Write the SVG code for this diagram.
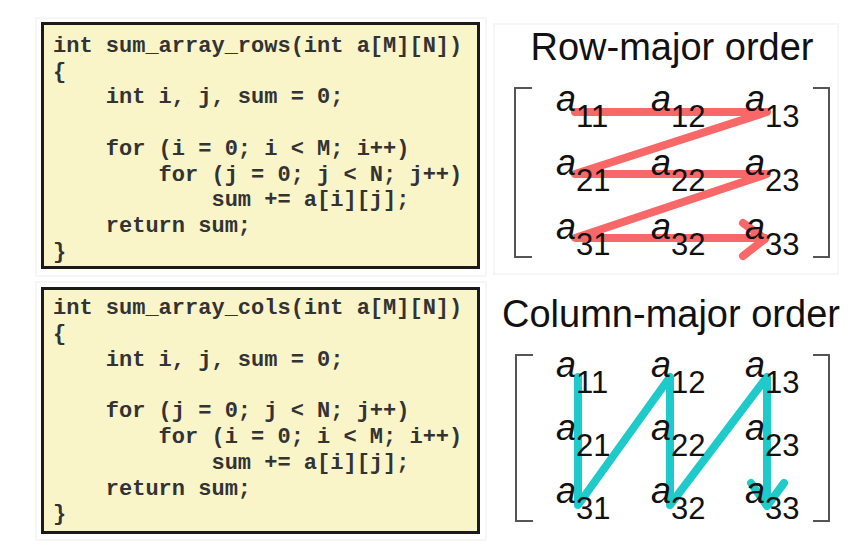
<svg xmlns="http://www.w3.org/2000/svg" width="864" height="560" viewBox="0 0 864 560">
<style>
.box{fill:#f9f5c9;stroke:#1a1a1a;stroke-width:3}
.code{font-family:"Liberation Mono","Courier New",monospace;font-weight:bold;font-size:22px;fill:#333;white-space:pre}
.title{font-family:"Liberation Sans",Arial,sans-serif;font-size:38px;fill:#111;text-anchor:middle}
.el{font-family:"Liberation Sans",Arial,sans-serif;font-size:36px;font-style:italic;fill:#111}
.sub{font-family:"Liberation Sans",Arial,sans-serif;font-size:31px;font-style:normal;fill:#111}
.br{fill:none;stroke:#555;stroke-width:2}
.red{fill:none;stroke:#f86868;stroke-width:8;stroke-linecap:round;stroke-linejoin:round}
.cyan{fill:none;stroke:#1fcaca;stroke-width:8;stroke-linecap:round;stroke-linejoin:round}
.faint{fill:none;stroke:#f3f3f3;stroke-width:1.5}
</style>
<rect width="864" height="560" fill="#ffffff"/>
<rect class="faint" x="36" y="18" width="450" height="258"/>
<rect class="faint" x="36" y="282" width="450" height="258"/>
<rect class="faint" x="494" y="24" width="344" height="250"/>

<g id="code-rows">
<rect class="box" x="42.5" y="23.5" width="436" height="244"/>
<text class="code" x="53" y="52">int sum_array_rows(int a[M][N])</text>
<text class="code" x="53" y="77.7">{</text>
<text class="code" x="53" y="103.4">    int i, j, sum = 0;</text>
<text class="code" x="53" y="154.8">    for (i = 0; i &lt; M; i++)</text>
<text class="code" x="53" y="180.5">        for (j = 0; j &lt; N; j++)</text>
<text class="code" x="53" y="206.2">            sum += a[i][j];</text>
<text class="code" x="53" y="231.9">    return sum;</text>
<text class="code" x="53" y="257.6">}</text>
</g>

<g id="code-cols">
<rect class="box" x="42.5" y="288.5" width="436" height="244"/>
<text class="code" x="53" y="314">int sum_array_cols(int a[M][N])</text>
<text class="code" x="53" y="339.8">{</text>
<text class="code" x="53" y="365.6">    int i, j, sum = 0;</text>
<text class="code" x="53" y="417.2">    for (j = 0; j &lt; N; j++)</text>
<text class="code" x="53" y="443">        for (i = 0; i &lt; M; i++)</text>
<text class="code" x="53" y="468.8">            sum += a[i][j];</text>
<text class="code" x="53" y="494.6">    return sum;</text>
<text class="code" x="53" y="520.4">}</text>
</g>

<g id="row-major">
<text class="title" x="672" y="60">Row-major order</text>
<path class="br" d="M532,88 H515 V257 H532"/>
<path class="br" d="M813,88 H829 V257 H813"/>
<g id="row-path">
<path class="red" d="M575,112 L767,112 L575,174 L767,174 L575,238 L765,238"/>
<path class="red" d="M743,223 L765,239 L743,256"/>
</g>
<text class="el" x="556" y="111">a<tspan class="sub" dy="16">11</tspan></text>
<text class="el" x="651" y="111">a<tspan class="sub" dy="16">12</tspan></text>
<text class="el" x="745" y="111">a<tspan class="sub" dy="16">13</tspan></text>
<text class="el" x="556" y="175">a<tspan class="sub" dy="16">21</tspan></text>
<text class="el" x="651" y="175">a<tspan class="sub" dy="16">22</tspan></text>
<text class="el" x="745" y="175">a<tspan class="sub" dy="16">23</tspan></text>
<text class="el" x="556" y="239">a<tspan class="sub" dy="16">31</tspan></text>
<text class="el" x="651" y="239">a<tspan class="sub" dy="16">32</tspan></text>
<text class="el" x="745" y="239">a<tspan class="sub" dy="16">33</tspan></text>
</g>

<g id="column-major">
<text class="title" x="671" y="327">Column-major order</text>
<path class="br" d="M533,355 H516 V521 H533"/>
<path class="br" d="M813,355 H829 V521 H813"/>
<g id="col-path">
<path class="cyan" d="M578,377 L578,505 L670,377 L670,505 L767,377 L767,505"/>
<path class="cyan" d="M751,483 L767,506 L784,483"/>
</g>
<text class="el" x="556" y="377">a<tspan class="sub" dy="16">11</tspan></text>
<text class="el" x="651" y="377">a<tspan class="sub" dy="16">12</tspan></text>
<text class="el" x="745" y="377">a<tspan class="sub" dy="16">13</tspan></text>
<text class="el" x="556" y="440">a<tspan class="sub" dy="16">21</tspan></text>
<text class="el" x="651" y="440">a<tspan class="sub" dy="16">22</tspan></text>
<text class="el" x="745" y="440">a<tspan class="sub" dy="16">23</tspan></text>
<text class="el" x="556" y="503">a<tspan class="sub" dy="16">31</tspan></text>
<text class="el" x="651" y="503">a<tspan class="sub" dy="16">32</tspan></text>
<text class="el" x="745" y="503">a<tspan class="sub" dy="16">33</tspan></text>
</g>
</svg>
